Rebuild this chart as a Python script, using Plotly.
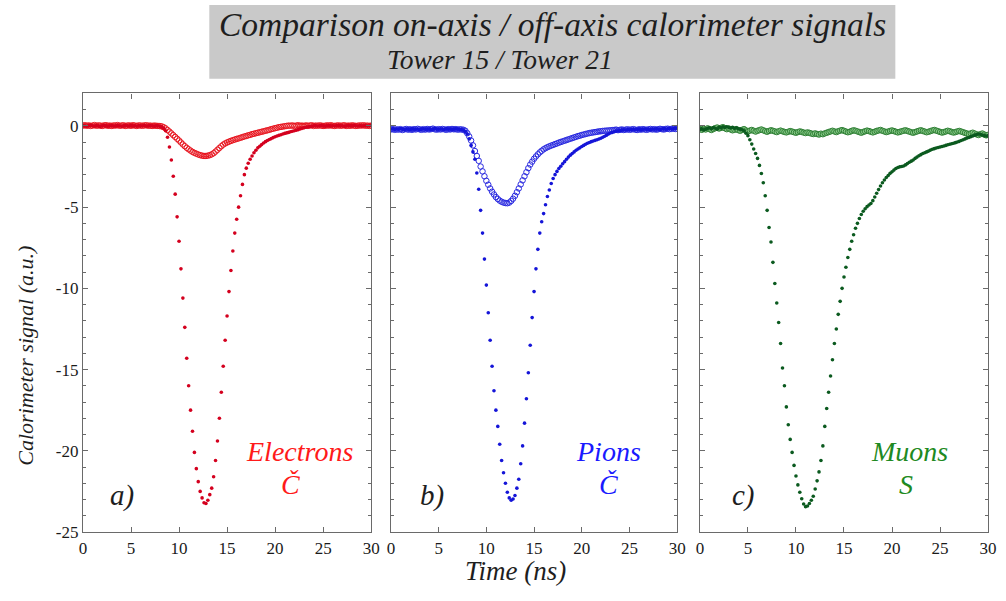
import plotly.graph_objects as go

# ---------------- data (time step 0.2 ns, 0..30 ns) ----------------
time_ns = [round(0.2 * i, 1) for i in range(151)]

red_tower15 = [
    0.03, 0.0, -0.02, 0.02, 0.04, 0.01, -0.01, 0.02, 0.0, -0.03,
    0.01, 0.03, 0.0, -0.02, 0.01, 0.02, -0.01, 0.0, 0.03, 0.01,
    -0.02, 0.0, 0.02, 0.01, -0.01, 0.03, 0.0, 0.01, -0.02, 0.02,
    0.0, 0.01, 0.03, -0.01, 0.0, 0.02, 0.01, -0.02, 0.0, 0.01,
    -0.02, -0.06,
    -0.15, -0.3, -0.7, -1.3, -2.1, -3.1, -4.2, -5.6, -7.1, -8.8,
    -10.6, -12.4, -14.3, -16.0, -17.5, -18.8, -20.1, -21.1, -21.9, -22.5,
    -22.9, -23.2, -23.25, -23.05, -22.7, -22.3, -21.6, -20.6, -19.4, -18.0,
    -16.4, -14.8, -13.2, -11.7, -10.2, -8.9, -7.7, -6.6, -5.75, -5.0,
    -4.3, -3.6, -3.0, -2.6, -2.3, -2.05, -1.85, -1.65, -1.5, -1.35,
    -1.25, -1.15, -1.05, -0.97, -0.9, -0.84, -0.78, -0.72, -0.67, -0.62,
    -0.58, -0.54, -0.5, -0.46, -0.43, -0.4, -0.36, -0.33, -0.3, -0.27,
    -0.23, -0.19, -0.15, -0.12, -0.08, -0.06, -0.04, -0.02,
    0.0, 0.02, -0.01, 0.01, 0.03, 0.0, -0.02, 0.01, 0.02, 0.0,
    0.01, -0.01, 0.02, 0.03, 0.0, 0.01, -0.02, 0.0, 0.02, 0.01,
    0.0, 0.03, 0.01, -0.01, 0.02, 0.0, 0.01, 0.02, -0.01, 0.01,
    0.02,
]

red_tower21 = [
    0.02, 0.04, 0.01, 0.03, 0.0, 0.02, 0.05, 0.01, 0.03, 0.02,
    0.0, 0.03, 0.04, 0.01, 0.02, 0.0, 0.03, 0.02, 0.05, 0.01,
    0.02, 0.04, 0.0, 0.02, 0.03, 0.01, 0.04, 0.02, 0.0, 0.03,
    0.02, 0.01, 0.03, 0.04, 0.01, 0.02, 0.0, 0.02, 0.01, 0.0,
    -0.01,
    -0.03, -0.08, -0.15, -0.25, -0.35, -0.46, -0.57, -0.68, -0.79, -0.9,
    -1.02, -1.14, -1.25, -1.35, -1.44, -1.52, -1.6, -1.66, -1.71, -1.76,
    -1.8, -1.83, -1.85, -1.85, -1.83, -1.8, -1.75, -1.68, -1.58, -1.47,
    -1.36, -1.25, -1.15, -1.08, -1.02, -0.97, -0.92, -0.88, -0.84, -0.8,
    -0.77, -0.73, -0.69, -0.65, -0.62, -0.58, -0.55, -0.51, -0.48, -0.45,
    -0.42, -0.39, -0.36, -0.33, -0.3, -0.27, -0.24, -0.2, -0.17, -0.14,
    -0.11, -0.08, -0.06, -0.04, -0.02,
    0.0, 0.02, 0.01, 0.03, 0.0, 0.02, 0.04, 0.01, 0.02, 0.0,
    0.03, 0.01, 0.02, 0.04, 0.0, 0.02, 0.01, 0.03, 0.02, 0.0,
    0.01, 0.03, 0.02, 0.04, 0.01, 0.0, 0.02, 0.03, 0.01, 0.02,
    0.04, 0.0, 0.02, 0.01, 0.03, 0.02, 0.0, 0.01, 0.03, 0.02,
    0.04, 0.01, 0.02, 0.0, 0.02,
]

blue_tower15 = [
    -0.2, -0.18, -0.22, -0.19, -0.21, -0.17, -0.2, -0.23, -0.19, -0.2,
    -0.22, -0.18, -0.2, -0.21, -0.19, -0.24, -0.2, -0.18, -0.21, -0.2,
    -0.19, -0.22, -0.2, -0.17, -0.2, -0.21, -0.19, -0.2, -0.22, -0.18,
    -0.2, -0.19, -0.21, -0.2, -0.18, -0.2, -0.22, -0.22, -0.26, -0.35,
    -0.5, -0.8, -1.2, -1.6, -2.05, -2.9, -3.9, -5.2, -6.6, -8.2,
    -9.8, -11.5, -13.2, -14.8, -16.3, -17.5, -18.5, -19.6, -20.6, -21.35,
    -22.0, -22.55, -22.9, -23.05, -22.97, -22.75, -22.3, -21.75, -20.8, -19.7,
    -18.3, -16.8, -15.2, -13.5, -11.8, -10.2, -8.8, -7.6, -6.6, -5.9,
    -5.4, -4.85, -4.35, -3.95, -3.55, -3.24, -3.0, -2.8, -2.62, -2.48,
    -2.33, -2.2, -2.05, -1.92, -1.8, -1.7, -1.6, -1.5, -1.42, -1.35,
    -1.27, -1.2, -1.13, -1.07, -1.02, -0.97, -0.93, -0.89, -0.85, -0.81,
    -0.76, -0.7, -0.64, -0.57, -0.5, -0.44, -0.4, -0.36, -0.32, -0.3,
    -0.28,
    -0.26, -0.24, -0.25, -0.22, -0.24, -0.23, -0.21, -0.24, -0.22, -0.2,
    -0.23, -0.21, -0.19, -0.22, -0.2, -0.23, -0.19, -0.21, -0.18, -0.2,
    -0.22, -0.19, -0.17, -0.2, -0.18, -0.16, -0.19, -0.17, -0.15, -0.16,
]

blue_tower21 = [
    -0.22, -0.2, -0.24, -0.21, -0.23, -0.2, -0.25, -0.22, -0.19, -0.23,
    -0.21, -0.24, -0.2, -0.22, -0.18, -0.21, -0.24, -0.2, -0.23, -0.19,
    -0.22, -0.2, -0.17, -0.21, -0.23, -0.2, -0.22, -0.19, -0.21, -0.24,
    -0.2, -0.22, -0.19, -0.21, -0.2, -0.23, -0.21, -0.22, -0.24,
    -0.3, -0.45, -0.65, -0.9, -1.2, -1.55, -1.85, -2.15, -2.5, -2.8,
    -3.1, -3.38, -3.62, -3.85, -4.05, -4.22, -4.38, -4.5, -4.6, -4.67,
    -4.72, -4.75, -4.76, -4.72, -4.62, -4.48, -4.3, -4.08, -3.85, -3.6,
    -3.35, -3.1, -2.85, -2.6, -2.38, -2.2, -2.02, -1.88, -1.75, -1.63,
    -1.53, -1.44, -1.37, -1.31, -1.26, -1.21, -1.17, -1.12, -1.08, -1.03,
    -0.99, -0.95, -0.91, -0.87, -0.83, -0.79, -0.75, -0.71, -0.67, -0.63,
    -0.6, -0.56, -0.53, -0.5, -0.47, -0.44, -0.42, -0.4, -0.38, -0.36,
    -0.34, -0.33, -0.31, -0.3, -0.29, -0.28, -0.27, -0.26,
    -0.25, -0.23, -0.26, -0.24, -0.22, -0.25, -0.23, -0.21, -0.24, -0.22,
    -0.2, -0.23, -0.25, -0.21, -0.23, -0.2, -0.22, -0.24, -0.21, -0.19,
    -0.22, -0.2, -0.23, -0.21, -0.18, -0.2, -0.22, -0.19, -0.17, -0.2,
    -0.18, -0.16, -0.19, -0.17,
]

green_tower15 = [
    -0.22, -0.18, -0.25, -0.2, -0.15, -0.12, -0.18, -0.1, -0.14, -0.2,
    -0.08, -0.12, -0.06, -0.1, -0.05, -0.09, -0.13, -0.08, -0.15, -0.12,
    -0.18, -0.2, -0.24,
    -0.3, -0.45, -0.6, -0.85, -1.12, -1.42, -1.7, -2.0, -2.43, -2.93,
    -3.5, -4.3, -5.2, -6.25, -7.15, -8.4, -9.7, -10.9, -12.1, -13.4,
    -14.9, -16.0, -17.3, -18.4, -19.3, -20.1, -20.9, -21.55, -22.1, -22.55,
    -22.95, -23.28, -23.44, -23.4, -23.25, -23.05, -22.8, -22.35, -21.85, -21.3,
    -20.6, -19.7, -18.5,
    -17.4, -16.4, -15.4, -14.4, -13.4, -12.5, -11.6, -10.8, -10.0, -9.3,
    -8.7, -8.1, -7.6, -7.1, -6.7, -6.3, -6.0, -5.7, -5.45, -5.25,
    -5.1, -4.97, -4.87, -4.78, -4.6, -4.38, -4.15, -3.92, -3.7, -3.5,
    -3.33, -3.18, -3.05, -2.92, -2.82, -2.72, -2.62, -2.56, -2.52, -2.5,
    -2.47, -2.4, -2.32, -2.24, -2.17, -2.1, -2.0, -1.92, -1.84, -1.77,
    -1.7, -1.65, -1.6, -1.55, -1.49, -1.44, -1.4, -1.36, -1.33, -1.3,
    -1.27, -1.24, -1.2, -1.16, -1.13, -1.1, -1.07, -1.03, -0.99, -0.95,
    -0.9, -0.85, -0.8, -0.75, -0.71, -0.66, -0.62, -0.57, -0.53, -0.5,
    -0.52, -0.56, -0.6, -0.62, -0.6,
]

green_tower21 = [
    -0.2, -0.24, -0.18, -0.22, -0.15, -0.2, -0.25, -0.19, -0.14, -0.1,
    -0.16, -0.12, -0.08, -0.14, -0.2, -0.16, -0.22, -0.27, -0.24, -0.2,
    -0.26, -0.3, -0.24, -0.2, -0.28, -0.33, -0.29, -0.25, -0.3, -0.35,
    -0.3, -0.26, -0.22, -0.27, -0.32, -0.36, -0.31, -0.27, -0.3, -0.34,
    -0.38, -0.33, -0.29, -0.33, -0.37, -0.4, -0.36, -0.32, -0.35, -0.39,
    -0.42, -0.38, -0.34, -0.37, -0.41, -0.44, -0.4, -0.43, -0.47, -0.5,
    -0.46, -0.5, -0.53, -0.48, -0.51, -0.46, -0.42, -0.38, -0.34, -0.3,
    -0.34, -0.38, -0.33, -0.29, -0.26, -0.3, -0.35, -0.39, -0.36, -0.31,
    -0.27, -0.3, -0.34, -0.38, -0.42, -0.37, -0.33, -0.29, -0.32, -0.36,
    -0.4, -0.36, -0.31, -0.28, -0.25, -0.3, -0.34, -0.38, -0.35, -0.31,
    -0.28, -0.32, -0.36, -0.4, -0.37, -0.33, -0.3, -0.27, -0.31, -0.35,
    -0.39, -0.42, -0.38, -0.34, -0.3, -0.27, -0.31, -0.35, -0.39, -0.36,
    -0.32, -0.28, -0.25, -0.29, -0.33, -0.37, -0.41, -0.38, -0.34, -0.3,
    -0.33, -0.37, -0.41, -0.38, -0.34, -0.31, -0.35, -0.39, -0.43, -0.47,
    -0.5, -0.46, -0.42, -0.47, -0.52, -0.56, -0.51, -0.47, -0.53, -0.58,
    -0.55,
]

x_ticks = [0, 5, 10, 15, 20, 25, 30]
y_ticks = [-25, -20, -15, -10, -5, 0]
y_ticktext = ["-25", "-20", "-15", "-10", "-5", "0"]

panel_labels = ["a)", "b)", "c)"]
particle_names = ["Electrons", "Pions", "Muons"]
signal_names = ["Č", "Č", "S"]

# ---------------- layout helpers ----------------
W, H = 1006, 601
def px(x):
    return x / W
def py(y):
    return 1 - y / H

SERIF = "Liberation Serif, Times New Roman, serif"
panels_x = [(80, 372), (392, 682), (705, 997)]
y_dom = [py(541), py(95)]

series = [
    (red_tower15, red_tower21, "#d4001e", "#e8141e", "rgba(255,255,255,0)", "#ff1a1a"),
    (blue_tower15, blue_tower21, "#1515d8", "#2a2ae0", "rgba(255,255,255,0)", "#1a1aff"),
    (green_tower15, green_tower21, "#0b5a1f", "#2f7f35", "rgba(140,205,140,0.8)", "#1e8a22"),
]

fig = go.Figure()
for k, (on_vals, off_vals, dot_col, open_col, open_fill, txt_col) in enumerate(series):
    xa = "x" if k == 0 else f"x{k+1}"
    ya = "y" if k == 0 else f"y{k+1}"
    fig.add_trace(go.Scatter(
        x=time_ns, y=off_vals, mode="markers", xaxis=xa, yaxis=ya,
        marker=dict(symbol="circle", size=5.5, color=open_fill,
                    line=dict(color=open_col, width=1)),
        showlegend=False, hoverinfo="skip"))
    fig.add_trace(go.Scatter(
        x=time_ns, y=on_vals, mode="markers", xaxis=xa, yaxis=ya,
        marker=dict(symbol="circle", size=3.6, color=dot_col),
        showlegend=False, hoverinfo="skip"))

axis_common = dict(
    showline=True, linecolor="#6a6a6a", linewidth=1.3, mirror="ticks",
    ticks="inside", tickcolor="#6a6a6a", tickwidth=1, ticklen=5,
    showgrid=False, zeroline=False,
    tickfont=dict(family=SERIF, size=17, color="#1a1a1a"),
)

layout = dict(
    width=W, height=H, autosize=False,
    margin=dict(l=0, r=0, t=0, b=0),
    paper_bgcolor="white", plot_bgcolor="white",
    showlegend=False,
)
for k, (x0, x1) in enumerate(panels_x):
    sfx = "" if k == 0 else str(k + 1)
    layout["xaxis" + sfx] = dict(
        axis_common, domain=[px(x0), px(x1)], range=[0, 30],
        tickvals=x_ticks, ticktext=[str(v) for v in x_ticks],
        anchor="y" + sfx,
    )
    layout["yaxis" + sfx] = dict(
        axis_common, domain=y_dom, range=[-25, 2],
        tickvals=y_ticks, ticktext=y_ticktext,
        showticklabels=(k == 0),
        minor=dict(dtick=1, tick0=0, ticks="inside", ticklen=3,
                   tickcolor="#6a6a6a", tickwidth=1),
        anchor="x" + sfx,
    )
fig.update_layout(**layout)

# title box
fig.add_shape(type="rect", xref="paper", yref="paper",
              x0=px(208), x1=px(903), y0=py(80), y1=py(5),
              fillcolor="#c9c9c9", line=dict(width=0), layer="below")

ann = []
ann.append(dict(x=px(556), y=py(25), text="<i>Comparison on-axis / off-axis calorimeter signals</i>",
                font=dict(family=SERIF, size=33.5, color="#1e1e1e")))
ann.append(dict(x=px(502), y=py(61), text="<i>Tower 15 / Tower 21</i>",
                font=dict(family=SERIF, size=27.5, color="#1e1e1e")))
ann.append(dict(x=px(22), y=py(362), text="<i>Calorimeter signal (a.u.)</i>", textangle=-90,
                font=dict(family=SERIF, size=22, color="#1e1e1e")))
ann.append(dict(x=px(518), y=py(581), text="<i>Time (ns)</i>",
                font=dict(family=SERIF, size=27, color="#1e1e1e")))

label_x = [120, 434, 749]
name_x = [299, 612, 917]
sig_x = [290, 612, 914]
txt_cols = [s[5] for s in series]
for k in range(3):
    ann.append(dict(x=px(label_x[k]), y=py(504), text=f"<i>{panel_labels[k]}</i>",
                    font=dict(family=SERIF, size=29, color="#1e1e1e")))
    ann.append(dict(x=px(name_x[k]), y=py(459), text=f"<i>{particle_names[k]}</i>",
                    font=dict(family=SERIF, size=28, color=txt_cols[k])))
    ann.append(dict(x=px(sig_x[k]), y=py(493), text=f"<i>{signal_names[k]}</i>",
                    font=dict(family=SERIF, size=28, color=txt_cols[k])))
for a in ann:
    a.update(xref="paper", yref="paper", showarrow=False, xanchor="center", yanchor="middle")
fig.update_layout(annotations=ann)

fig.write_html("out.html")
